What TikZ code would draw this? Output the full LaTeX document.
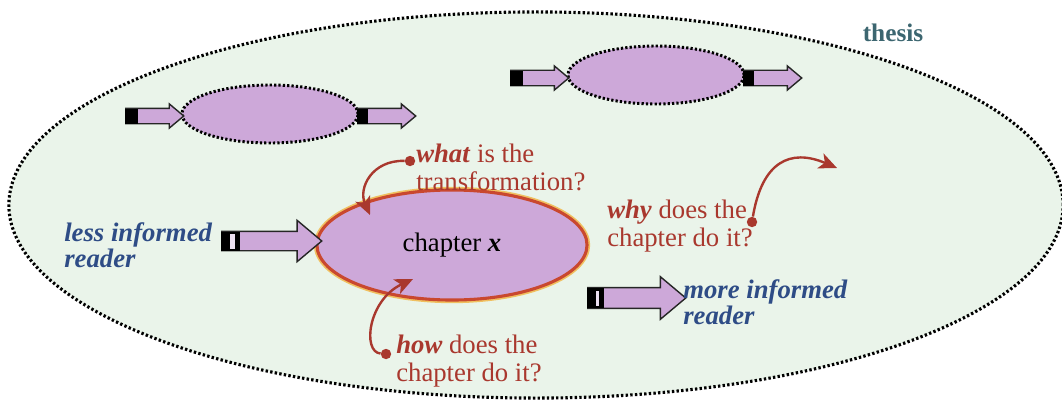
\documentclass[tikz,border=0pt]{standalone}
\usepackage{fontspec}
\setmainfont{Liberation Serif}
\usetikzlibrary{arrows.meta,shapes.geometric,shapes.arrows}
\definecolor{paper}{HTML}{EAF4EA}
\definecolor{lilac}{HTML}{CDA8D9}
\definecolor{rim}{HTML}{C9482F}
\definecolor{glow}{HTML}{F0C060}
\definecolor{askred}{HTML}{A9382E}
\definecolor{readerblue}{HTML}{2E4C86}
\definecolor{thesisteal}{HTML}{3C6670}
\tikzset{
  thesisbg/.style={ellipse,draw=black,line width=2.2pt,dash pattern=on 1.7pt off 1.6pt,fill=paper,minimum width=26.35cm,minimum height=9.65cm,inner sep=0pt},
  stage/.style={ellipse,draw=black,line width=2.1pt,dash pattern=on 1.6pt off 1.5pt,fill=lilac,minimum width=4.4cm,minimum height=1.45cm,inner sep=0pt},
  chapter/.style={ellipse,draw=rim,line width=2.2pt,fill=lilac,minimum width=6.75cm,minimum height=2.75cm,font=\fontsize{19}{20}\selectfont,
    preaction={draw=glow,line width=4.5pt}},
  fat/.style={single arrow,draw=black!85,line width=1pt,fill=lilac,anchor=tail,inner xsep=0pt,single arrow tip angle=80},
  smallfat/.style={fat,minimum height=1.45cm,inner ysep=0.175cm,single arrow head extend=0.11cm},
  bigfat/.style={fat,minimum height=2.5cm,inner ysep=0.225cm,single arrow head extend=0.275cm},
  tailbox/.style={rectangle,fill=black,draw=black,line width=0.6pt,anchor=west,inner sep=0pt},
  reader/.style={text=readerblue,font=\fontsize{19}{18.5}\selectfont\bfseries\itshape,align=left,inner sep=0pt,anchor=west},
  ask/.style={text=askred,font=\fontsize{19}{20}\selectfont,align=left,inner sep=0pt,anchor=west},
  dot/.style={circle,fill=askred,inner sep=0pt,minimum size=0.26cm},
  link/.style={draw=askred,line width=1.7pt,-{Stealth[length=4.5mm,width=4mm,inset=1.2mm]}}
}

\begin{document}
\begin{tikzpicture}[x=0.025cm,y=-0.025cm]
\useasboundingbox (0,0) rectangle (1062,414);
\node[thesisbg] (thesis) at (536,205) {};
\node[font=\fontsize{18}{20}\selectfont\bfseries,text=thesisteal,inner sep=0pt] (thesislbl) at (893,33) {thesis};
% earlier and later chapters
\node[stage] (prev) at (270,114) {};
\node[stage] (next) at (656,75) {};
\node[smallfat] (previn) at (125,116) {};
\node[tailbox,minimum width=0.3cm,minimum height=0.35cm] at (previn.tail) {};
\node[smallfat] (prevout) at (357,116) {};
\node[tailbox,minimum width=0.25cm,minimum height=0.35cm] at (prevout.tail) {};
\node[smallfat] (nextin) at (510,78) {};
\node[tailbox,minimum width=0.3cm,minimum height=0.35cm] at (nextin.tail) {};
\node[smallfat] (nextout) at (743,78) {};
\node[tailbox,minimum width=0.25cm,minimum height=0.35cm] at (nextout.tail) {};
% this chapter
\node[chapter] (chap) at (452,245) {chapter \textbf{\textit{x}}};
\node[bigfat] (lessarr) at (221,241) {};
\node[tailbox,minimum width=0.45cm,minimum height=0.45cm] (lesstail) at (lessarr.tail) {};
\fill[lilac!35] ([xshift=-0.25cm,yshift=-0.07cm]lesstail.north east) rectangle ([xshift=-0.13cm,yshift=0.04cm]lesstail.south east);
\node[bigfat,minimum height=2.45cm,inner ysep=0.24cm] (morearr) at (587,298) {};
\node[tailbox,minimum width=0.4cm,minimum height=0.48cm] (moretail) at (morearr.tail) {};
\fill[lilac!35] ([xshift=-0.2cm,yshift=-0.07cm]moretail.north east) rectangle ([xshift=-0.12cm,yshift=0.04cm]moretail.south east);
\node[reader] (less) at (64,245) {less informed\\reader};
\node[reader] (more) at (683,302) {more informed\\reader};
% questions
\node[ask] (what) at (416,167) {\textbf{\textit{what}} is the\\transformation?};
\node[ask] (how) at (396,361) {\textbf{\textit{how}} does the\\chapter do it?};
\node[ask] (why) at (607,226) {\textbf{\textit{why}} does the\\chapter do it?};
\node[dot] (whatdot) at (410,161) {};
\node[dot] (howdot) at (386,354) {};
\node[dot] (whydot) at (752,222) {};
\coordinate (whattip) at (370,215);
\coordinate (howtip) at (413,279);
\coordinate (whytip) at (837,168);
\draw[link] (whatdot) .. controls (372,160) and (358,188) .. (whattip);
\draw[link] (howdot) .. controls (362,352) and (368,300) .. (howtip);
\draw[link] (whydot) .. controls (762,162) and (790,148) .. (whytip);
\end{tikzpicture}
\end{document}
